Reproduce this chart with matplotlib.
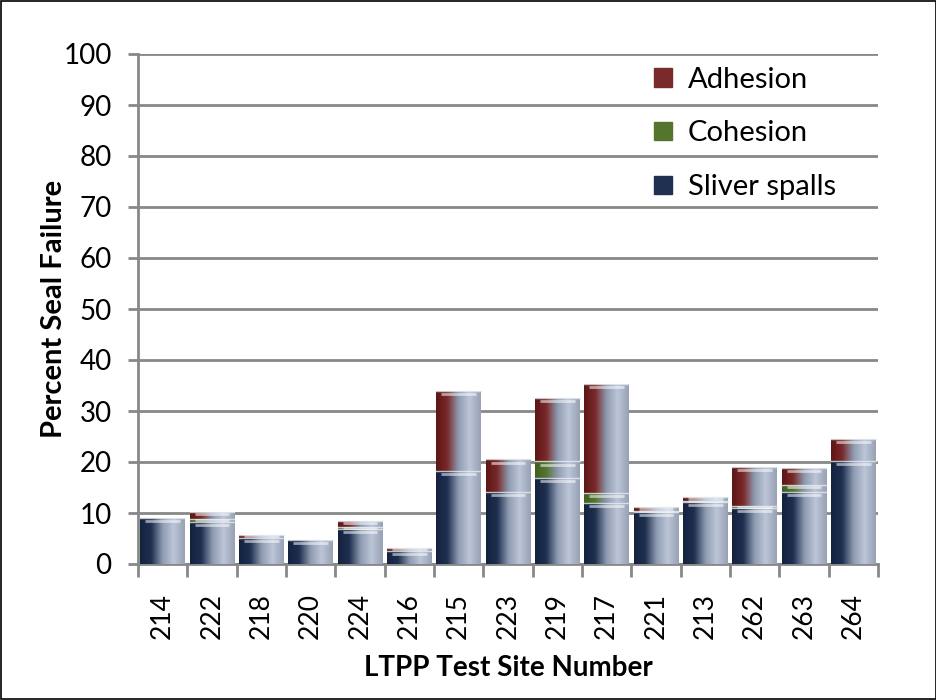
import numpy as np
import matplotlib.pyplot as plt
from matplotlib.colors import LinearSegmentedColormap

sites = ["214", "222", "218", "220", "224", "216", "215", "223",
         "219", "217", "221", "213", "262", "263", "264"]
sliver = [9.0, 8.2, 5.1, 4.7, 6.8, 2.5, 18.3, 14.2, 16.8, 11.9, 10.2, 12.2, 10.9, 14.2, 20.2]
cohesion = [0.0, 0.7, 0.0, 0.0, 0.5, 0.0, 0.0, 0.0, 3.3, 2.0, 0.2, 0.1, 0.5, 1.3, 0.0]
adhesion = [0.0, 1.2, 0.6, 0.0, 1.1, 0.6, 15.7, 6.3, 12.5, 21.4, 0.8, 0.8, 7.7, 3.3, 4.3]

plt.rcParams['font.family'] = ['Lato', 'DejaVu Sans']

fig = plt.figure(figsize=(9.37, 7), dpi=100)
ax = fig.add_axes([138 / 937, 136 / 700, 740 / 937, 510 / 700])
# thin border round the whole figure
fig.patches.append(plt.Rectangle((0.001, 0.001), 0.998, 0.998, transform=fig.transFigure,
                                 fill=False, edgecolor="black", linewidth=1.2))

x = np.arange(len(sites))
width = 0.9

series = [
    ("Sliver spalls", sliver, "#13233f", "#1f3050"),
    ("Cohesion", cohesion, "#3f6020", "#55752f"),
    ("Adhesion", adhesion, "#5e1515", "#7a2a2a"),
]

grad = np.linspace(0, 1, 64).reshape(1, -1)
bottom = np.zeros(len(sites))
handles = []
for name, vals, dark, mid in series:
    vals = np.array(vals)
    bars = ax.bar(x, vals, width, bottom=bottom, color=mid, edgecolor="none", zorder=2)
    cmap = LinearSegmentedColormap.from_list(name, [dark, mid, "#8d9ab0", "#bcc6d8", "#98a2b4"])
    for b in bars:
        h = b.get_height()
        if h <= 0:
            continue
        x0 = b.get_x()
        y0 = b.get_y()
        im = ax.imshow(grad, extent=(x0, x0 + b.get_width(), y0, y0 + h), aspect="auto",
                       cmap=cmap, zorder=3, interpolation="bicubic")
        im.set_clip_path(b)
        # light band near the top of each segment
        ax.plot([x0 + 0.1, x0 + b.get_width() - 0.1], [y0 + h - min(0.6, h * 0.3)] * 2,
                color="white", alpha=0.55, linewidth=2, zorder=4, solid_capstyle="butt")
        ax.plot([x0, x0 + b.get_width()], [y0 + h, y0 + h], color="#e8ecf2",
                linewidth=1.0, zorder=4, alpha=0.8)
    handles.append(bars)
    bottom = bottom + vals

ax.set_ylim(0, 100)
ax.set_xlim(-0.5, len(sites) - 0.5)
ax.set_yticks(np.arange(0, 101, 10))
ax.tick_params(axis="y", labelsize=20, length=7, width=2, color="#888888", pad=12)
ax.set_xticks(x)
ax.set_xticklabels(sites, rotation=90, fontsize=19)
ax.tick_params(axis="x", length=0, pad=21)
ax.set_xticks(np.arange(-0.5, len(sites), 1), minor=True)
ax.tick_params(axis="x", which="minor", length=9, width=2, color="#888888")

ax.yaxis.grid(True, color="#888888", linewidth=2)
ax.set_axisbelow(True)
for s in ["top", "right"]:
    ax.spines[s].set_visible(False)
for s in ["left", "bottom"]:
    ax.spines[s].set_color("#888888")
    ax.spines[s].set_linewidth(2)

ax.set_ylabel("Percent Seal Failure", fontsize=21, fontweight="bold", labelpad=-3)
ax.set_xlabel("LTPP Test Site Number", fontsize=20, fontweight="bold", labelpad=11)

leg = ax.legend(handles[::-1], ["Adhesion", "Cohesion", "Sliver spalls"], loc="upper left",
                bbox_to_anchor=(0.682, 0.998), borderaxespad=0, frameon=False, fontsize=21,
                labelspacing=0.95, handlelength=0.6, handleheight=0.6, handletextpad=0.55)
for h, c in zip(leg.legend_handles, ["#7a2a2a", "#55752f", "#1f3050"]):
    h.set_color(c)

fig.savefig("out.png", dpi=100)
